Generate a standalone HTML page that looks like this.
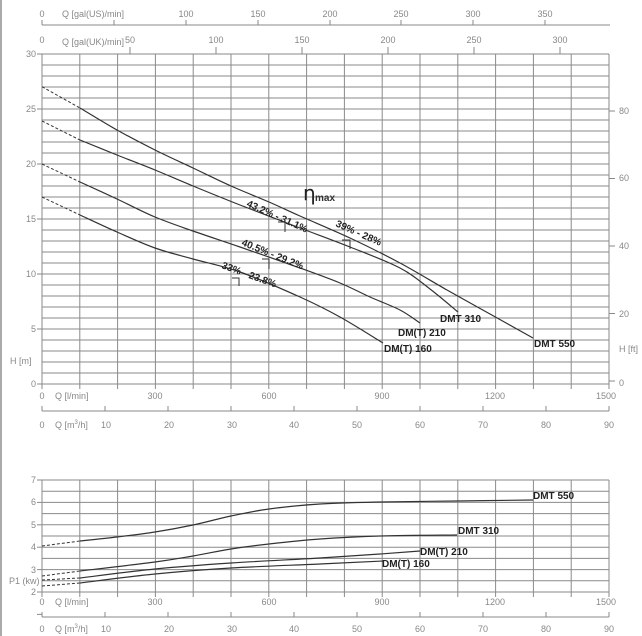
<!DOCTYPE html>
<html><head><meta charset="utf-8"><style>
body{margin:0;background:#fff;}
svg{display:block;font-family:"Liberation Sans",sans-serif;}
.t{fill:#888;font-size:9px;}
.b{fill:#222;font-size:10px;font-weight:bold;}
</style></head><body>
<svg id="s" width="642" height="636" viewBox="0 0 642 636" xmlns="http://www.w3.org/2000/svg">
<rect x="0" y="0" width="2" height="636" fill="#aaa"/>
<g id="grid" stroke="#8a8a8a" stroke-width="1" fill="none"></g>
<g id="curves" stroke="#333" stroke-width="1.2" fill="none"></g>
<!-- top axes -->
<text class="t" x="42" y="17" text-anchor="middle">0</text>
<text class="t" x="62" y="17">Q [gal(US)/min]</text>
<text class="t" x="186" y="17" text-anchor="middle">100</text>
<text class="t" x="258" y="17" text-anchor="middle">150</text>
<text class="t" x="330" y="17" text-anchor="middle">200</text>
<text class="t" x="401" y="17" text-anchor="middle">250</text>
<text class="t" x="473" y="17" text-anchor="middle">300</text>
<text class="t" x="545" y="17" text-anchor="middle">350</text>
<text class="t" x="42" y="43" text-anchor="middle">0</text>
<text class="t" x="62" y="45">Q [gal(UK)/min]</text>
<text class="t" x="130" y="43" text-anchor="middle">50</text>
<text class="t" x="216" y="43" text-anchor="middle">100</text>
<text class="t" x="302" y="43" text-anchor="middle">150</text>
<text class="t" x="388" y="43" text-anchor="middle">200</text>
<text class="t" x="474" y="43" text-anchor="middle">250</text>
<text class="t" x="560" y="43" text-anchor="middle">300</text>
<!-- left H -->
<text class="t" x="36" y="57" text-anchor="end">30</text>
<text class="t" x="36" y="112" text-anchor="end">25</text>
<text class="t" x="36" y="167" text-anchor="end">20</text>
<text class="t" x="36" y="222" text-anchor="end">15</text>
<text class="t" x="36" y="277" text-anchor="end">10</text>
<text class="t" x="36" y="332" text-anchor="end">5</text>
<text class="t" x="36" y="387" text-anchor="end">0</text>
<text class="t" x="10" y="364">H [m]</text>
<!-- right ft -->
<text class="t" x="619" y="114">80</text>
<text class="t" x="619" y="181">60</text>
<text class="t" x="619" y="249">40</text>
<text class="t" x="619" y="317">20</text>
<text class="t" x="619" y="386">0</text>
<text class="t" x="619" y="352">H [ft]</text>
<!-- top chart bottom axes -->
<text class="t" x="42" y="399" text-anchor="middle">0</text>
<text class="t" x="55" y="399">Q [l/min]</text>
<text class="t" x="155" y="399" text-anchor="middle">300</text>
<text class="t" x="269" y="399" text-anchor="middle">600</text>
<text class="t" x="382" y="399" text-anchor="middle">900</text>
<text class="t" x="495" y="399" text-anchor="middle">1200</text>
<text class="t" x="606" y="399" text-anchor="middle">1500</text>
<text class="t" x="42" y="428" text-anchor="middle">0</text>
<text class="t" x="55" y="428">Q [m<tspan font-size="6" dy="-4">3</tspan><tspan dy="4">/h]</tspan></text>
<text class="t" x="106" y="428" text-anchor="middle">10</text>
<text class="t" x="169" y="428" text-anchor="middle">20</text>
<text class="t" x="232" y="428" text-anchor="middle">30</text>
<text class="t" x="294" y="428" text-anchor="middle">40</text>
<text class="t" x="357" y="428" text-anchor="middle">50</text>
<text class="t" x="420" y="428" text-anchor="middle">60</text>
<text class="t" x="483" y="428" text-anchor="middle">70</text>
<text class="t" x="546" y="428" text-anchor="middle">80</text>
<text class="t" x="609" y="428" text-anchor="middle">90</text>
<!-- bottom chart -->
<text class="t" x="36" y="483" text-anchor="end">7</text>
<text class="t" x="36" y="505" text-anchor="end">6</text>
<text class="t" x="36" y="528" text-anchor="end">5</text>
<text class="t" x="36" y="550" text-anchor="end">4</text>
<text class="t" x="36" y="573" text-anchor="end">3</text>
<text class="t" x="36" y="595" text-anchor="end">2</text>
<text class="t" x="9" y="584">P1 (kw)</text>
<text class="t" x="42" y="605" text-anchor="middle">0</text>
<text class="t" x="55" y="605">Q [l/min]</text>
<text class="t" x="155" y="605" text-anchor="middle">300</text>
<text class="t" x="269" y="605" text-anchor="middle">600</text>
<text class="t" x="382" y="605" text-anchor="middle">900</text>
<text class="t" x="495" y="605" text-anchor="middle">1200</text>
<text class="t" x="606" y="605" text-anchor="middle">1500</text>
<text class="t" x="42" y="632" text-anchor="middle">0</text>
<text class="t" x="55" y="632">Q [m<tspan font-size="6" dy="-4">3</tspan><tspan dy="4">/h]</tspan></text>
<text class="t" x="106" y="632" text-anchor="middle">10</text>
<text class="t" x="169" y="632" text-anchor="middle">20</text>
<text class="t" x="232" y="632" text-anchor="middle">30</text>
<text class="t" x="294" y="632" text-anchor="middle">40</text>
<text class="t" x="357" y="632" text-anchor="middle">50</text>
<text class="t" x="420" y="632" text-anchor="middle">60</text>
<text class="t" x="483" y="632" text-anchor="middle">70</text>
<text class="t" x="546" y="632" text-anchor="middle">80</text>
<text class="t" x="609" y="632" text-anchor="middle">90</text>
<!-- curve labels -->
<text class="b" x="440" y="322">DMT 310</text>
<text class="b" x="398" y="336">DM(T) 210</text>
<text class="b" x="384" y="352">DM(T) 160</text>
<text class="b" x="534" y="347">DMT 550</text>
<text class="b" x="533" y="499">DMT 550</text>
<text class="b" x="458" y="534">DMT 310</text>
<text class="b" x="420" y="555">DM(T) 210</text>
<text class="b" x="382" y="567">DM(T) 160</text>
<!-- efficiency -->
<text x="303" y="200" fill="#222" font-size="20" font-family="DejaVu Sans,sans-serif">η</text>
<text x="315" y="201" fill="#333" font-size="10" font-weight="bold">max</text>
<text class="b" x="246" y="206" transform="rotate(24 246 206)">43.2% - 31.1%</text>
<text class="b" x="335" y="226" transform="rotate(24 335 226)">39% - 28%</text>
<text class="b" x="241" y="245" transform="rotate(22 241 245)">40.5% - 29.2%</text>
<text class="b" x="221" y="268" transform="rotate(20 221 268)">33% - 23.8%</text>
<g stroke="#333" stroke-width="1" fill="none">
<path d="M278 222H285V232"/><path d="M342 240H350V249"/><path d="M262 259H269V269"/><path d="M232 278H239V286"/>
</g>
</svg>
<script>
var g=document.getElementById('grid'),c=document.getElementById('curves');
function L(x1,y1,x2,y2,p,extra){var l=document.createElementNS('http://www.w3.org/2000/svg','line');l.setAttribute('x1',x1);l.setAttribute('y1',y1);l.setAttribute('x2',x2);l.setAttribute('y2',y2);if(extra)for(var k in extra)l.setAttribute(k,extra[k]);p.appendChild(l);}
for(var i=0;i<=15;i++){var x=42+i*37.8;L(x,54,x,389,g);L(x,480,x,597,g);}
for(var j=0;j<=30;j++){var y=54+j*11;L(42,y,609,y,g);}
for(var j=0;j<=10;j++){var y=480+j*11.2;L(42,y,609,y,g);}
L(38,54,42,54,g);for(j=0;j<=6;j++){L(37,54+j*55,42,54+j*55,g);L(37,480+j*22.4,42,480+j*22.4,g);}
[111,178.5,246,313.5,381].forEach(function(y){L(609,y,615,y,g);});
L(42,25,610,25,g);[42,114,186,258,330,401,473,545].forEach(function(x){L(x,25,x,20,g);});
[130,216,302,388,474,560].forEach(function(x){L(x,54,x,47,g);});
L(42,411,609,411,g);L(42,617,609,617,g);
for(i=0;i<=9;i++){var x=42+i*63;L(x,411,x,406,g);L(x,617,x,612,g);}
function P(pts){var d='M'+pts[0][0]+' '+pts[0][1];for(var i=1;i<pts.length;i++){var p0=pts[i-1],p1=pts[i],pm=pts[i-2]||p0,pn=pts[i+1]||p1;var c1=[p0[0]+(p1[0]-pm[0])/6,p0[1]+(p1[1]-pm[1])/6],c2=[p1[0]-(pn[0]-p0[0])/6,p1[1]-(pn[1]-p0[1])/6];d+='C'+c1+' '+c2+' '+p1;}var e=document.createElementNS('http://www.w3.org/2000/svg','path');e.setAttribute('d',d);c.appendChild(e);}
function D(a,b){L(a[0],a[1],b[0],b[1],c,{'stroke-dasharray':'3,2','stroke-width':'1'});}
var cs=[
[[42,86.7],[80,108],[117,130],[155,150],[193,168],[231,186],[269,202],[300,216],[350,238],[400,263],[447,290],[490,314],[533,338]],
[[42,121],[80,140],[117,155],[155,170],[193,186],[240,205],[300,228],[350,247],[400,268],[430,289],[458,312]],
[[42,164],[80,182],[117,199],[155,217],[193,231],[240,247],[300,268],[340,283],[370,297],[400,310],[420,323]],
[[42,197],[80,215],[117,232],[155,248],[193,259],[240,272],[300,297],[340,317],[383,343]],
[[42,546],[80,541],[117,537],[155,532],[193,525],[231,516],[269,509],[320,504],[380,502],[457,501],[533,500]],
[[42,576],[80,571],[155,562],[193,556],[231,549],[269,544],[320,539],[380,536],[457,535]],
[[42,580],[80,578],[155,569],[231,563],[320,558],[380,554],[420,551]],
[[42,586],[80,583],[155,574],[231,568],[320,564],[383,561]]];
cs.forEach(function(a){D(a[0],a[1]);P(a.slice(1));});
</script>
</body></html>
